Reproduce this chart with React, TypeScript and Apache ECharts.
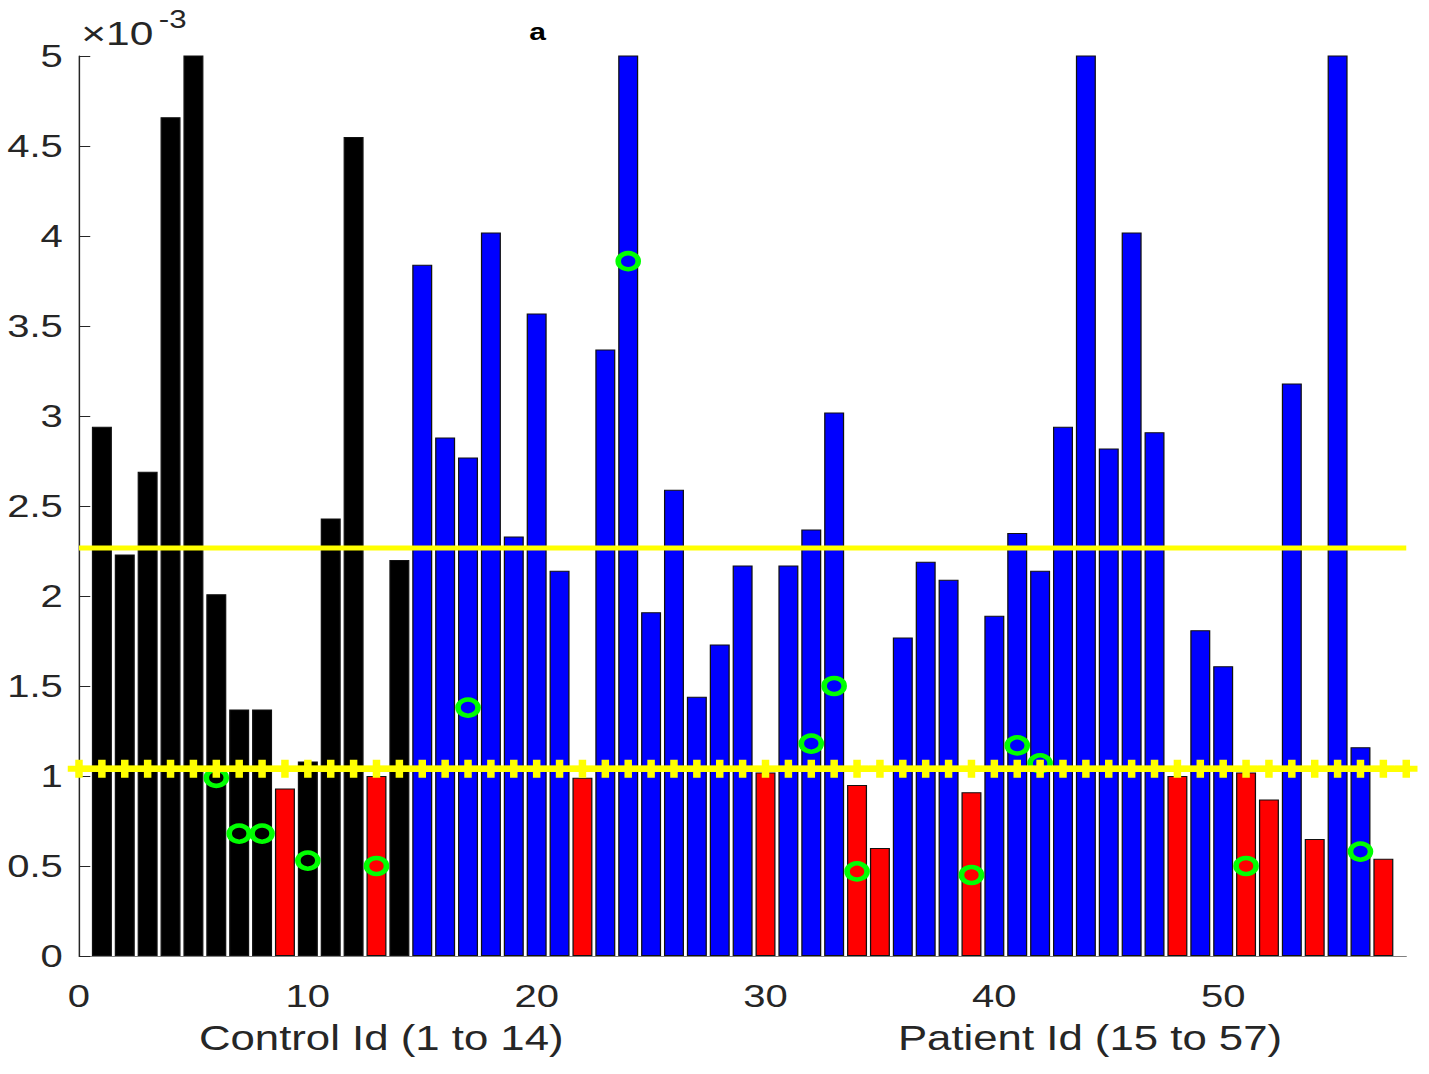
import React, { useEffect, useRef } from "react";
import * as echarts from "echarts";

// The reference picture is stretched horizontally; the chart is drawn at its
// natural width and widened with a CSS scale so texts and marks stretch alike.
const SX = 1.25;
const PAGE_W = 1429;
const PAGE_H = 1074;

// Control subjects, Id 1..14
const controlValues = [2.94, 2.23, 2.69, 4.66, 5.3, 2.01, 1.37, 1.37, 0.93, 1.08, 2.43, 4.55, 1.0, 2.2];
// Patients, Id 15..57
const patientValues = [
  3.84, 2.88, 2.77, 4.02, 2.33, 3.57, 2.14, 0.99, 3.37, 5.6,
  1.91, 2.59, 1.44, 1.73, 2.17, 1.02, 2.17, 2.37, 3.02, 0.95,
  0.6, 1.77, 2.19, 2.09, 0.91, 1.89, 2.35, 2.14, 2.94, 5.5,
  2.82, 4.02, 2.91, 1.0, 1.81, 1.61, 1.02, 0.87, 3.18, 0.65,
  5.4, 1.16, 0.54,
];
const firstPatientId = 15;

// Horizontal reference levels
const lowerThreshold = 1.04;
const upperThreshold = 2.267;

// Green ring markers
const ringIds = [6, 7, 8, 10, 13, 17, 24, 32, 33, 34, 39, 41, 42, 51, 56];
const ringValues = [0.99, 0.68, 0.68, 0.53, 0.5, 1.38, 3.86, 1.18, 1.5, 0.47, 0.45, 1.17, 1.07, 0.5, 0.58];

// Axes
const xMin = 0;
const xMax = 58;
const xInterval = 10;
const yMin = 0;
const yMax = 5;
const yInterval = 0.5;
const exponentBase = "×10";
const exponentPower = "-3";
const controlLabel = "Control Id (1 to 14)";
const patientLabel = "Patient Id (15 to 57)";
const titleFragment = "a";

const BLACK = "#000000";
const BLUE = "#0000ff";
const RED = "#ff0000";
const YELLOW = "#ffff00";
const GREEN = "#00ff00";
const TEXT = "#262626";
const FONT = "'Liberation Sans', Arial, Helvetica, sans-serif";

export default function App() {
  const ref = useRef<HTMLDivElement>(null);

  useEffect(() => {
    if (!ref.current) return;
    const chart = echarts.init(ref.current, undefined, { renderer: "svg" });

    const barData = [
      ...controlValues.map((v, i) => ({
        value: [i + 1, v],
        itemStyle: { color: v < lowerThreshold ? RED : BLACK },
      })),
      ...patientValues.map((v, i) => ({
        value: [i + firstPatientId, v],
        itemStyle: { color: v < lowerThreshold ? RED : BLUE },
      })),
    ];

    const markerLine: number[][] = [];
    for (let k = xMin; k <= xMax; k++) markerLine.push([k, lowerThreshold]);

    const rings = ringIds.map((id, i) => [id, ringValues[i]]);

    chart.setOption({
      animation: false,
      backgroundColor: "#ffffff",
      grid: { left: 63.2, right: 18, top: 56, bottom: 118, containLabel: false },
      xAxis: {
        type: "value",
        min: xMin,
        max: xMax,
        interval: xInterval,
        axisLine: { show: true, lineStyle: { color: "#808080", width: 1 } },
        axisTick: { show: false },
        splitLine: { show: false },
        axisLabel: {
          formatter: (v: number) => (v % xInterval === 0 ? String(v) : ""),
          color: TEXT,
          fontSize: 32,
          fontFamily: FONT,
          margin: 24,
        },
      },
      yAxis: {
        type: "value",
        min: yMin,
        max: yMax,
        interval: yInterval,
        axisLine: { show: true, lineStyle: { color: TEXT, width: 1.2 } },
        axisTick: { show: true, inside: true, length: 9, lineStyle: { color: TEXT, width: 1 } },
        splitLine: { show: false },
        axisLabel: { color: TEXT, fontSize: 32, fontFamily: FONT, margin: 13 },
      },
      series: [
        {
          type: "bar",
          data: barData,
          barWidth: 16,
          itemStyle: { borderColor: "#111111", borderWidth: 1 },
          z: 2,
        },
        {
          type: "line",
          data: [
            [xMin, upperThreshold],
            [xMax, upperThreshold],
          ],
          symbol: "none",
          lineStyle: { color: YELLOW, width: 5 },
          z: 3,
        },
        {
          type: "scatter",
          data: rings,
          symbol: "circle",
          symbolSize: 16,
          itemStyle: { color: "rgba(0,0,0,0)", borderColor: GREEN, borderWidth: 4.5, opacity: 1 },
          z: 4,
        },
        {
          type: "line",
          data: markerLine,
          symbol: "path://M-2,-6H2V-2H6V2H2V6H-2V2H-6V-2H-2Z",
          symbolSize: [18, 18],
          showAllSymbol: true,
          itemStyle: { color: YELLOW },
          lineStyle: { color: YELLOW, width: 6.5 },
          z: 5,
        },
      ],
      graphic: [
        {
          type: "text",
          x: 65,
          y: 33,
          style: {
            text: exponentBase,
            fill: TEXT,
            font: `34px ${FONT}`,
            verticalAlign: "middle",
            align: "left",
          },
        },
        {
          type: "text",
          x: 127,
          y: 19,
          style: {
            text: exponentPower,
            fill: TEXT,
            font: `25px ${FONT}`,
            verticalAlign: "middle",
            align: "left",
          },
        },
        {
          type: "text",
          x: 430,
          y: 32,
          style: {
            text: titleFragment,
            fill: "#000000",
            font: `bold 24px ${FONT}`,
            verticalAlign: "middle",
            align: "center",
          },
        },
        {
          type: "text",
          x: 305,
          y: 1038,
          style: {
            text: controlLabel,
            fill: TEXT,
            font: `35px ${FONT}`,
            verticalAlign: "middle",
            align: "center",
          },
        },
        {
          type: "text",
          x: 872,
          y: 1038,
          style: {
            text: patientLabel,
            fill: TEXT,
            font: `35px ${FONT}`,
            verticalAlign: "middle",
            align: "center",
          },
        },
      ],
    });

    return () => chart.dispose();
  }, []);

  return (
    <div
      ref={ref}
      style={{
        position: "fixed",
        left: 0,
        top: 0,
        width: PAGE_W / SX,
        height: PAGE_H,
        transform: `scaleX(${SX})`,
        transformOrigin: "0 0",
        background: "#ffffff",
      }}
    />
  );
}
